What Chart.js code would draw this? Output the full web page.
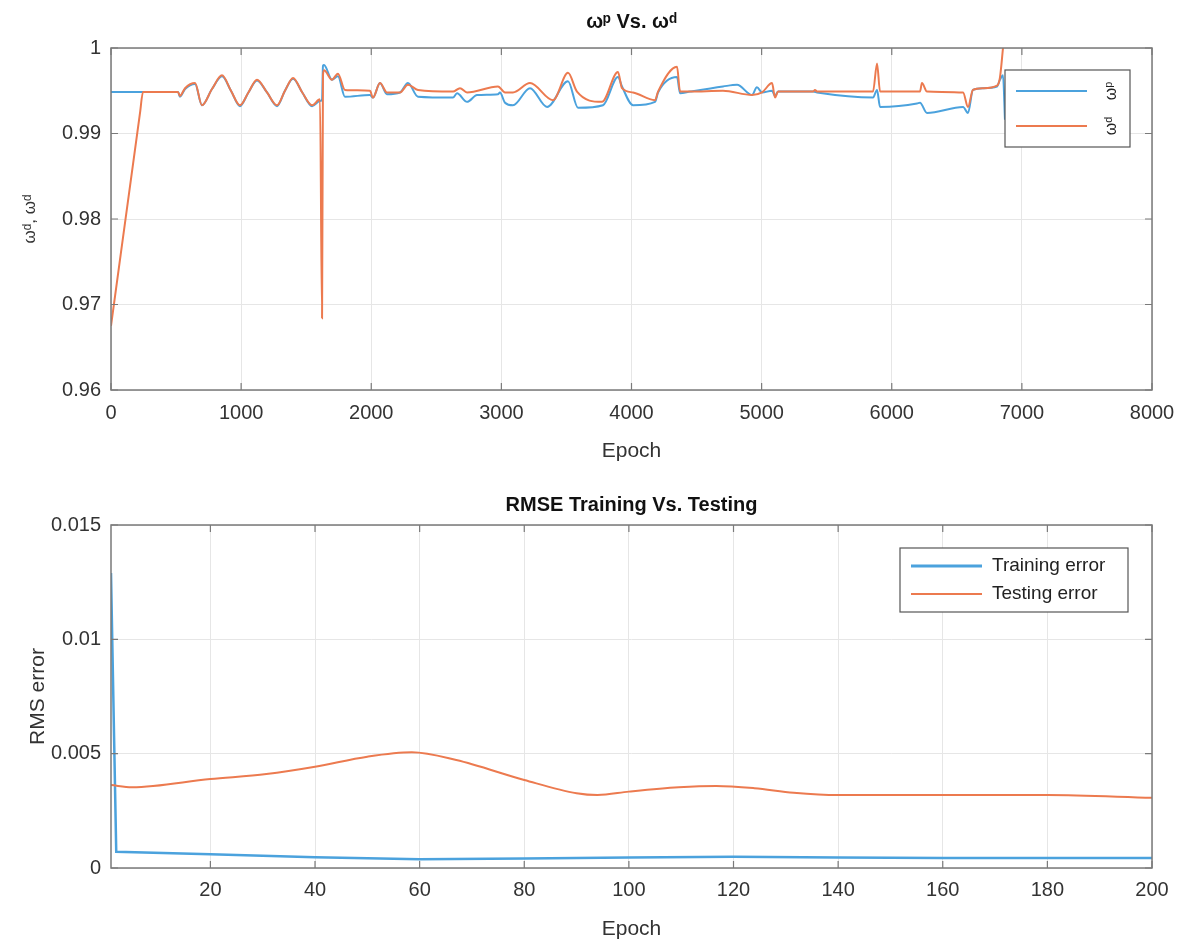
<!DOCTYPE html>
<html>
<head>
<meta charset="utf-8">
<script src="https://cdn.jsdelivr.net/npm/chart.js@4.4.1/dist/chart.umd.min.js"></script>
<style>
  body { margin: 0; background: #fff; }
  canvas { position: absolute; left: 0; }
  #top { top: 0; }
  #bottom { top: 475px; }
</style>
</head>
<body>
<canvas id="top" width="1187" height="475"></canvas>
<canvas id="bottom" width="1187" height="472"></canvas>
<script>
// --- top plot: omega^p vs omega^d over epochs ---
const epochP = [0, 515, 530, 569, 646, 699, 776, 853, 922, 991, 1056, 1122, 1199, 1276, 1337, 1399, 1470, 1545, 1606, 1622, 1629, 1637, 1698, 1744, 1798, 1990, 2013, 2067, 2121, 2221, 2282, 2359, 2628, 2659, 2736, 2813, 2974, 2989, 3028, 3089, 3220, 3351, 3512, 3589, 3781, 3896, 3927, 4012, 4181, 4204, 4350, 4373, 4450, 4703, 4811, 4926, 4964, 5003, 5080, 5103, 5126, 5395, 5426, 5856, 5887, 5910, 6194, 6217, 6271, 6548, 6586, 6624, 6701, 6809, 6832, 6855, 6870];
const omegaP = [0.99485, 0.99485, 0.9943, 0.9952, 0.9958, 0.9933, 0.9952, 0.9967, 0.9950, 0.9932, 0.9948, 0.9962, 0.9948, 0.9932, 0.9950, 0.9964, 0.9948, 0.9932, 0.9938, 0.9940, 0.9979, 0.9980, 0.9963, 0.9967, 0.9943, 0.9945, 0.9942, 0.9959, 0.9946, 0.9948, 0.9959, 0.9943, 0.9942, 0.9947, 0.9937, 0.9945, 0.9946, 0.9948, 0.9936, 0.9933, 0.9953, 0.9931, 0.9961, 0.9930, 0.9933, 0.9966, 0.9955, 0.9933, 0.9937, 0.9948, 0.9966, 0.9947, 0.9949, 0.9955, 0.9957, 0.9945, 0.9954, 0.9948, 0.9950, 0.9944, 0.9949, 0.9949, 0.9948, 0.9942, 0.9951, 0.9931, 0.9935, 0.9936, 0.9924, 0.9931, 0.9924, 0.9951, 0.9953, 0.9955, 0.9963, 0.9968, 0.9916];

const epochD = [0, 223, 246, 515, 530, 569, 646, 699, 776, 853, 922, 991, 1056, 1122, 1199, 1276, 1337, 1399, 1470, 1545, 1606, 1622, 1629, 1637, 1698, 1744, 1798, 1990, 2013, 2067, 2121, 2221, 2282, 2359, 2628, 2682, 2736, 2974, 3028, 3089, 3220, 3397, 3512, 3581, 3773, 3896, 3927, 4012, 4181, 4204, 4350, 4373, 4450, 4703, 4926, 5003, 5080, 5103, 5126, 5395, 5410, 5426, 5856, 5887, 5910, 6217, 6232, 6271, 6548, 6586, 6624, 6701, 6809, 6832, 6855];
const omegaD = [0.9675, 0.9924, 0.99485, 0.99485, 0.9944, 0.9953, 0.9959, 0.9933, 0.9952, 0.9968, 0.9950, 0.9933, 0.9948, 0.9963, 0.9948, 0.9933, 0.9950, 0.9965, 0.9948, 0.9933, 0.9940, 0.9684, 0.9968, 0.9974, 0.9963, 0.9970, 0.9951, 0.9950, 0.9942, 0.9959, 0.9948, 0.9948, 0.9957, 0.9951, 0.9949, 0.9953, 0.9948, 0.9955, 0.9948, 0.9948, 0.9959, 0.9939, 0.9971, 0.9949, 0.9937, 0.9972, 0.9953, 0.9948, 0.9939, 0.9949, 0.9978, 0.9949, 0.9949, 0.9950, 0.9945, 0.9948, 0.9959, 0.9942, 0.9949, 0.9949, 0.9951, 0.9949, 0.9949, 0.9982, 0.9949, 0.9949, 0.9959, 0.9949, 0.9948, 0.9931, 0.9951, 0.9953, 0.9956, 0.9966, 1.0000];

// --- bottom plot: RMSE training vs testing ---
const epochTrain = [1, 2, 20, 40, 60, 80, 100, 120, 140, 160, 180, 200];
const trainErr = [0.0129, 0.00071, 0.00060, 0.00047, 0.00038, 0.00042, 0.00046, 0.00049, 0.00046, 0.00044, 0.00044, 0.00044];
const epochTest = [1, 5, 20, 30.7, 40, 50, 58.5, 67, 80, 90, 94, 100, 109.5, 116.7, 124, 131.5, 140, 160, 180, 200];
const testErr = [0.00363, 0.00353, 0.00389, 0.00411, 0.00443, 0.00487, 0.00506, 0.00472, 0.00385, 0.00327, 0.00319, 0.00334, 0.00353, 0.00359, 0.00349, 0.00329, 0.00319, 0.00319, 0.00319, 0.00307];

const topXTicks = [0, 1000, 2000, 3000, 4000, 5000, 6000, 7000, 8000];
const topYTicks = [0.96, 0.97, 0.98, 0.99, 1];
const botXTicks = [20, 40, 60, 80, 100, 120, 140, 160, 180, 200];
const botYTicks = [0, 0.005, 0.01, 0.015];

const blue = '#4ba2dd';
const orange = '#ec7a4f';
const FONT = 'Liberation Sans, Arial, Helvetica, sans-serif';

Chart.defaults.font.family = FONT;
Chart.defaults.color = '#333';

function pts(xs, ys) {
    return xs.map((x, i) => ({ x: x, y: ys[i] }));
}

// box around the axes plus small inward ticks like MATLAB
const frame = {
    id: 'frame',
    afterDatasetsDraw(chart) {
        const { ctx, chartArea: a, scales } = chart;
        ctx.save();
        ctx.strokeStyle = '#7a7a7a';
        ctx.lineWidth = 1.5;
        ctx.strokeRect(a.left, a.top, a.right - a.left, a.bottom - a.top);
        ctx.lineWidth = 1.2;
        ctx.beginPath();
        scales.x.ticks.forEach(t => {
            const px = scales.x.getPixelForValue(t.value);
            ctx.moveTo(px, a.bottom); ctx.lineTo(px, a.bottom - 7);
            ctx.moveTo(px, a.top); ctx.lineTo(px, a.top + 7);
        });
        scales.y.ticks.forEach(t => {
            const py = scales.y.getPixelForValue(t.value);
            ctx.moveTo(a.left, py); ctx.lineTo(a.left + 7, py);
            ctx.moveTo(a.right, py); ctx.lineTo(a.right - 7, py);
        });
        ctx.stroke();
        ctx.restore();
    }
};

// legend box drawn inside the plot area
function boxLegend(opts) {
    return {
        id: 'boxLegend',
        afterDraw(chart) {
            const { ctx, chartArea: a } = chart;
            const x0 = a.right - opts.dx - opts.w;
            const y0 = a.top + opts.dy;
            ctx.save();
            ctx.fillStyle = '#fff';
            ctx.fillRect(x0, y0, opts.w, opts.h);
            ctx.strokeStyle = '#555';
            ctx.lineWidth = 1.2;
            ctx.strokeRect(x0, y0, opts.w, opts.h);
            opts.items.forEach((it, i) => {
                const ds = chart.data.datasets[it.ds];
                const ly = y0 + opts.firstY + i * opts.gap;
                ctx.strokeStyle = ds.borderColor;
                ctx.lineWidth = it.lw;
                ctx.beginPath();
                ctx.moveTo(x0 + opts.lineX, ly);
                ctx.lineTo(x0 + opts.lineX + opts.lineW, ly);
                ctx.stroke();
                ctx.fillStyle = '#222';
                ctx.font = opts.font;
                if (opts.rotate) {
                    ctx.save();
                    ctx.translate(x0 + opts.textX, ly);
                    ctx.rotate(-Math.PI / 2);
                    ctx.textAlign = 'center';
                    ctx.textBaseline = 'middle';
                    ctx.fillText(ds.label, 0, 0);
                    ctx.restore();
                } else {
                    ctx.textAlign = 'left';
                    ctx.textBaseline = 'middle';
                    ctx.fillText(ds.label, x0 + opts.textX, ly);
                }
            });
            ctx.restore();
        }
    };
}

function baseScales(cfg) {
    return {
        x: {
            type: 'linear',
            min: cfg.xMin, max: cfg.xMax,
            afterBuildTicks: s => { s.ticks = cfg.xTicks.map(v => ({ value: v })); },
            afterFit: s => { s.height = cfg.xHeight; },
            grid: { color: '#e6e6e6', drawTicks: false },
            border: { display: false },
            ticks: { font: { size: 20 }, padding: cfg.xPad, maxRotation: 0, color: '#333', callback: v => String(v) },
            title: { display: true, text: 'Epoch', font: { size: 21 }, color: '#333', padding: { top: 0, bottom: cfg.xTitlePad } }
        },
        y: {
            type: 'linear',
            min: cfg.yMin, max: cfg.yMax,
            afterBuildTicks: s => { s.ticks = cfg.yTicks.map(v => ({ value: v })); },
            afterFit: s => { s.width = 111; },
            grid: { color: '#e6e6e6', drawTicks: false },
            border: { display: false },
            ticks: { font: { size: 20 }, padding: 10, color: '#333', callback: v => String(+v.toFixed(3)) },
            title: { display: true, text: cfg.yTitle, font: { size: cfg.yTitleSize }, color: '#333', padding: { top: cfg.yTitlePad, bottom: 0 } }
        }
    };
}

new Chart(document.getElementById('top'), {
    type: 'line',
    data: {
        datasets: [
            { label: 'ωᵖ', data: pts(epochP, omegaP), borderColor: blue, borderWidth: 2, pointRadius: 0, cubicInterpolationMode: 'monotone', order: 1 },
            { label: 'ωᵈ', data: pts(epochD, omegaD), borderColor: orange, borderWidth: 2, pointRadius: 0, cubicInterpolationMode: 'monotone', order: 0 }
        ]
    },
    options: {
        responsive: false,
        animation: false,
        layout: { padding: { left: 0, right: 35, top: 0, bottom: 0 } },
        plugins: {
            legend: { display: false },
            tooltip: { enabled: false },
            title: { display: true, fullSize: false, text: 'ωᵖ Vs. ωᵈ', color: '#111', font: { size: 20, weight: 'bold' }, padding: { top: 10, bottom: 14 } }
        },
        scales: baseScales({ xMin: 0, xMax: 8000, xTicks: topXTicks, xHeight: 85, xPad: 11, xTitlePad: 11,
                             yMin: 0.96, yMax: 1, yTicks: topYTicks, yTitle: 'ωᵈ, ωᵈ', yTitleSize: 17, yTitlePad: 20 })
    },
    plugins: [frame, boxLegend({ dx: 22, dy: 22, w: 125, h: 77, firstY: 21, gap: 35, lineX: 11, lineW: 71,
                                 textX: 107, rotate: true, font: '16px ' + FONT,
                                 items: [{ ds: 0, lw: 2 }, { ds: 1, lw: 2 }] })]
});

new Chart(document.getElementById('bottom'), {
    type: 'line',
    data: {
        datasets: [
            { label: 'Training error', data: pts(epochTrain, trainErr), borderColor: blue, borderWidth: 2.5, pointRadius: 0, tension: 0, order: 1 },
            { label: 'Testing error', data: pts(epochTest, testErr), borderColor: orange, borderWidth: 2, pointRadius: 0, cubicInterpolationMode: 'monotone', order: 0 }
        ]
    },
    options: {
        responsive: false,
        animation: false,
        layout: { padding: { left: 0, right: 35, top: 0, bottom: 0 } },
        plugins: {
            legend: { display: false },
            tooltip: { enabled: false },
            title: { display: true, fullSize: false, text: 'RMSE Training Vs. Testing', color: '#111', font: { size: 20, weight: 'bold' }, padding: { top: 18, bottom: 8 } }
        },
        scales: baseScales({ xMin: 1, xMax: 200, xTicks: botXTicks, xHeight: 79, xPad: 10, xTitlePad: 5,
                             yMin: 0, yMax: 0.015, yTicks: botYTicks, yTitle: 'RMS error', yTitleSize: 21, yTitlePad: 26 })
    },
    plugins: [frame, boxLegend({ dx: 24, dy: 23, w: 228, h: 64, firstY: 18, gap: 28, lineX: 11, lineW: 71,
                                 textX: 92, rotate: false, font: '19px ' + FONT,
                                 items: [{ ds: 0, lw: 3 }, { ds: 1, lw: 2 }] })]
});
</script>
</body>
</html>
